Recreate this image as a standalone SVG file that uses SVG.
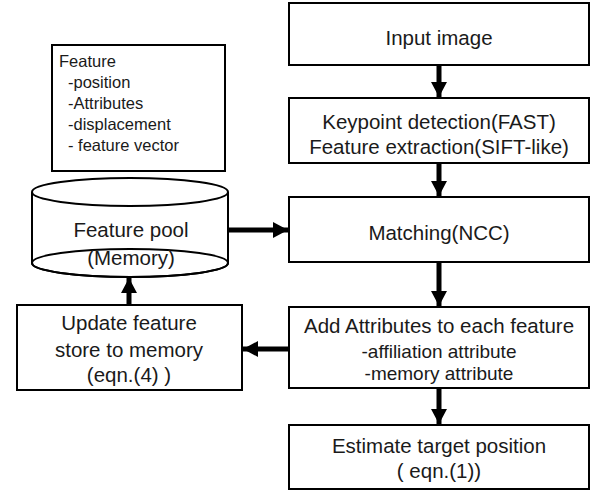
<svg xmlns="http://www.w3.org/2000/svg" width="600" height="492" viewBox="0 0 600 492">
<style>
.box{fill:#fff;stroke:#000;stroke-width:2}
.t{font-family:"Liberation Sans",Arial,sans-serif;font-size:20.5px;fill:#1a1a1a;text-anchor:middle}
.s{font-family:"Liberation Sans",Arial,sans-serif;font-size:19px;fill:#1a1a1a;text-anchor:middle}
.l{font-family:"Liberation Sans",Arial,sans-serif;font-size:16.5px;fill:#1a1a1a}
.c{fill:none;stroke:#000;stroke-width:5}
</style>
<defs>
<marker id="ah" markerUnits="userSpaceOnUse" markerWidth="16" markerHeight="18" refX="15" refY="8" orient="auto">
<polygon points="0,0 15,8 0,16" fill="#000"/>
</marker>
</defs>
<rect width="600" height="492" fill="#fff"/>
<g id="legend">
<rect class="box" x="52" y="45" width="173" height="126" stroke-width="1.5"/>
<text class="l" x="59" y="67">Feature</text>
<text class="l" x="68" y="88">-position</text>
<text class="l" x="68" y="109">-Attributes</text>
<text class="l" x="68" y="130">-displacement</text>
<text class="l" x="68" y="151">- feature vector</text>
</g>
<g id="input">
<rect class="box" x="289" y="3" width="300" height="62"/>
<text class="t" x="439" y="45">Input image</text>
</g>
<g id="keypoint">
<rect class="box" x="289" y="98" width="300" height="65"/>
<text class="t" x="439" y="129">Keypoint detection(FAST)</text>
<text class="t" x="439" y="154">Feature extraction(SIFT-like)</text>
</g>
<g id="matching">
<rect class="box" x="289" y="197" width="300" height="65"/>
<text class="t" x="439" y="240">Matching(NCC)</text>
</g>
<g id="attributes">
<rect class="box" x="289" y="307" width="300" height="81"/>
<text class="t" x="439" y="333">Add Attributes to each feature</text>
<text class="s" x="439" y="358">-affiliation attribute</text>
<text class="s" x="439" y="380">-memory attribute</text>
</g>
<g id="estimate">
<rect class="box" x="289" y="425" width="300" height="64"/>
<text class="t" x="439" y="453">Estimate target position</text>
<text class="t" x="439" y="478">( eqn.(1))</text>
</g>
<g id="pool">
<path class="box" d="M32,192 V263 A98,14 0 0 0 228,263 V192"/>
<ellipse class="box" cx="130" cy="192" rx="98" ry="14"/>
<ellipse cx="130" cy="263" rx="98" ry="14" fill="none" stroke="#000" stroke-width="2"/>
<text class="t" x="131" y="237">Feature pool</text>
<text class="t" x="131" y="265">(Memory)</text>
</g>
<g id="update">
<rect class="box" x="17" y="305" width="225" height="85"/>
<text class="t" x="129" y="330">Update feature</text>
<text class="t" x="129" y="357">store to memory</text>
<text class="t" x="129" y="382">(eqn.(4) )</text>
</g>
<g id="connectors">
<line class="c" x1="439" y1="66" x2="439" y2="97" marker-end="url(#ah)"/>
<line class="c" x1="439" y1="164" x2="439" y2="196" marker-end="url(#ah)"/>
<line class="c" x1="439" y1="263" x2="439" y2="306" marker-end="url(#ah)"/>
<line class="c" x1="439" y1="389" x2="439" y2="424" marker-end="url(#ah)"/>
<line class="c" x1="228" y1="230" x2="288" y2="230" marker-end="url(#ah)"/>
<line class="c" x1="288" y1="349" x2="243" y2="349" marker-end="url(#ah)"/>
<line class="c" x1="129" y1="304" x2="129" y2="278" marker-end="url(#ah)"/>
</g>
</svg>
